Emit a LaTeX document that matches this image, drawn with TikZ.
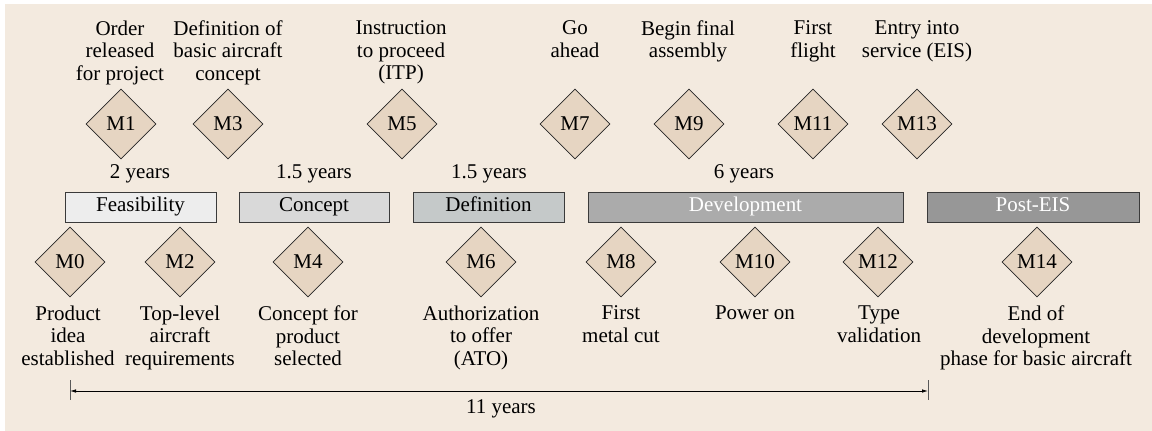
\documentclass[tikz,border=0pt]{standalone}
\usepackage{fontspec}
\setmainfont{Liberation Serif}
\usetikzlibrary{shapes.geometric,arrows.meta}

\definecolor{bgbeige}{HTML}{F3EADF}
\definecolor{msfill}{HTML}{E6D5C2}
\definecolor{phaseA}{HTML}{EDEDED}
\definecolor{phaseB}{HTML}{D9D9D9}
\definecolor{phaseC}{HTML}{C5C9C9}
\definecolor{phaseD}{HTML}{ABABAB}
\definecolor{phaseE}{HTML}{979797}
\definecolor{edgegray}{HTML}{3A3A3A}

\begin{document}
\begin{tikzpicture}[x=1pt,y=-1pt,
  every node/.style={font=\fontsize{21}{22.5}\selectfont, inner sep=0pt},
  milestone/.style={diamond, aspect=1, draw=black!85, fill=msfill,
    minimum width=70pt, minimum height=70pt, line width=0.8pt},
  toplabel/.style={align=center, anchor=north},
  botlabel/.style={align=center, anchor=north},
  span/.style={anchor=base},
  phase/.style={draw=edgegray, line width=0.9pt, minimum height=30pt,
    text height=14.3pt, text depth=4.6pt},
  darkphase/.style={phase, text=white},
  dimline/.style={line width=0.8pt, {Latex[length=6pt,width=3.5pt]}-{Latex[length=6pt,width=3.5pt]}},
  tickline/.style={line width=1pt, draw=black!65}
]
\useasboundingbox (0,0) rectangle (1152,431);
\fill[bgbeige] (5,4) rectangle (1152,431);

% upper milestones
\node[milestone] (m1)  at (121,124) {M1};
\node[milestone] (m3)  at (228,124) {M3};
\node[milestone] (m5)  at (402,124) {M5};
\node[milestone] (m7)  at (575,124) {M7};
\node[milestone] (m9)  at (689,124) {M9};
\node[milestone] (m11) at (813,124) {M11};
\node[milestone] (m13) at (917,124) {M13};

\node[toplabel] (t1)  at (120,20.5) {Order\\released\\for project};
\node[toplabel] (t3)  at (228,20.5) {Definition of\\basic aircraft\\concept};
\node[toplabel] (t5)  at (401,20.5) {Instruction\\to proceed\\(ITP)};
\node[toplabel] (t7)  at (575,20.5) {Go\\ahead};
\node[toplabel] (t9)  at (688,20.5) {Begin final\\assembly};
\node[toplabel] (t11) at (813,20.5) {First\\flight};
\node[toplabel] (t13) at (917,20.5) {Entry into\\service (EIS)};

% durations
\node[span] (y1) at (140,178) {2 years};
\node[span] (y2) at (314,178) {1.5 years};
\node[span] (y3) at (489,178) {1.5 years};
\node[span] (y4) at (744,178) {6 years};

% phases
\node[phase, fill=phaseA, minimum width=151pt] (feas) at (140.5,207) {Feasibility};
\node[phase, fill=phaseB, minimum width=150pt] (conc) at (314,207) {Concept};
\node[phase, fill=phaseC, minimum width=151pt] (defi) at (488.5,207) {Definition};
\node[darkphase, fill=phaseD, minimum width=315pt] (deve) at (745.5,207) {Development};
\node[darkphase, fill=phaseE, minimum width=212pt] (post) at (1033,207) {Post-EIS};

% lower milestones
\node[milestone] (m0)  at (70,262) {M0};
\node[milestone] (m2)  at (180,262) {M2};
\node[milestone] (m4)  at (308,262) {M4};
\node[milestone] (m6)  at (481,262) {M6};
\node[milestone] (m8)  at (621,262) {M8};
\node[milestone] (m10) at (755,262) {M10};
\node[milestone] (m12) at (878,262) {M12};
\node[milestone] (m14) at (1037,262) {M14};

\node[botlabel] (b0)  at (68,305.7)  {Product\\idea\\established};
\node[botlabel] (b2)  at (180,305.7) {Top-level\\aircraft\\requirements};
\node[botlabel] (b4)  at (308,305.7) {Concept for\\product\\selected};
\node[botlabel] (b6)  at (481,305.7) {Authorization\\to offer\\(ATO)};
\node[botlabel] (b8)  at (621,305.7) {First\\metal cut};
\node[botlabel] (b10) at (755,305.7) {Power on};
\node[botlabel] (b12) at (879,305.7) {Type\\validation};
\node[botlabel] (b14) at (1036,305.7) {End of\\development\\phase for basic aircraft};

% overall duration
\coordinate (dl) at (70,391);
\coordinate (dr) at (928,391);
\draw[tickline] ([yshift=11pt]dl) -- ([yshift=-9pt]dl);
\draw[tickline] ([yshift=11pt]dr) -- ([yshift=-9pt]dr);
\draw[dimline] (dl) -- (dr);
\node[span] (total) at (501,413) {11 years};
\end{tikzpicture}
\end{document}
